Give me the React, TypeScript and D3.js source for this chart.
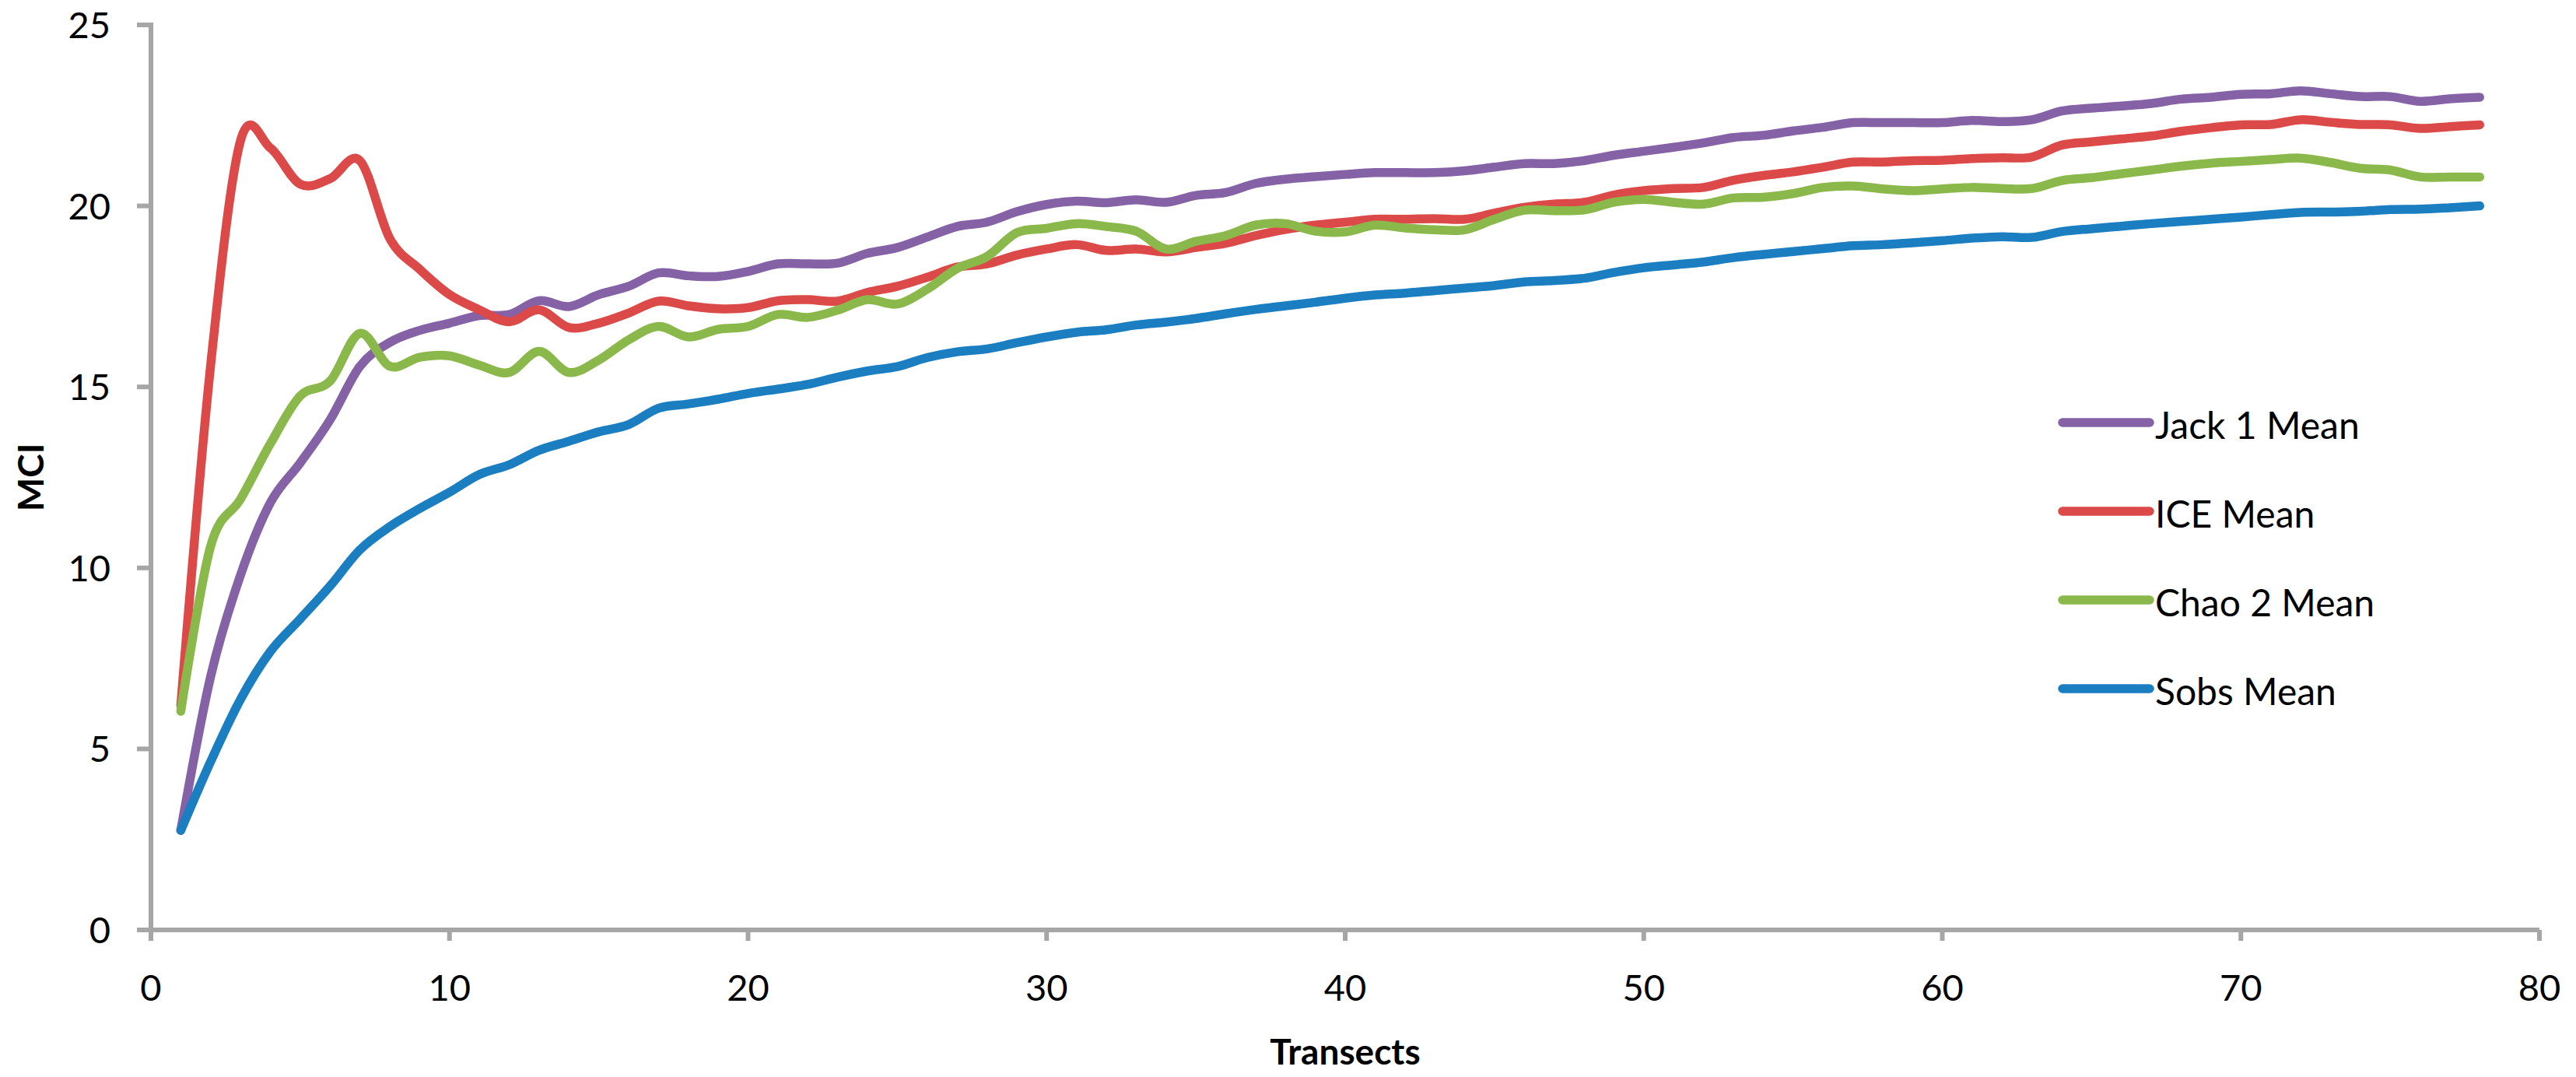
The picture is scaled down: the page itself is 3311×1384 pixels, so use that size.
import { useEffect, useRef } from 'react';
import * as d3 from 'd3';

// transect number (x)
const transects = [
  1, 2, 3, 4, 5, 6, 7, 8, 9, 10, 11, 12, 13, 14, 15, 16, 17, 18, 19, 20,
  21, 22, 23, 24, 25, 26, 27, 28, 29, 30, 31, 32, 33, 34, 35, 36, 37, 38, 39, 40,
  41, 42, 43, 44, 45, 46, 47, 48, 49, 50, 51, 52, 53, 54, 55, 56, 57, 58, 59, 60,
  61, 62, 63, 64, 65, 66, 67, 68, 69, 70, 71, 72, 73, 74, 75, 76, 77, 78,
];

const jack1Mean = [
  2.75, 7.0, 9.8, 11.8, 12.9, 14.09, 15.57, 16.23, 16.56, 16.76, 16.97, 17.0, 17.38, 17.22, 17.55, 17.78, 18.15, 18.07, 18.05, 18.19,
  18.4, 18.4, 18.42, 18.69, 18.85, 19.14, 19.43, 19.55, 19.84, 20.04, 20.13, 20.09, 20.17, 20.1, 20.29, 20.37, 20.62, 20.74, 20.81, 20.87,
  20.92, 20.92, 20.92, 20.97, 21.07, 21.17, 21.17, 21.25, 21.4, 21.51, 21.62, 21.74, 21.89, 21.95, 22.07, 22.17, 22.3, 22.3, 22.3, 22.3,
  22.36, 22.33, 22.38, 22.62, 22.7, 22.76, 22.83, 22.95, 23.0, 23.08, 23.1, 23.18, 23.1, 23.02, 23.02, 22.89, 22.96, 23.0,
];

const iceMean = [
  6.2, 15.6, 21.8, 21.6, 20.6, 20.75, 21.25, 19.1, 18.25, 17.55, 17.13, 16.8, 17.13, 16.64, 16.76, 17.04, 17.37, 17.24, 17.16, 17.19,
  17.38, 17.41, 17.37, 17.61, 17.78, 18.03, 18.31, 18.4, 18.64, 18.81, 18.93, 18.77, 18.81, 18.73, 18.85, 18.97, 19.18, 19.35, 19.47, 19.55,
  19.63, 19.63, 19.65, 19.63, 19.8, 19.96, 20.05, 20.1, 20.3, 20.42, 20.48, 20.51, 20.71, 20.84, 20.94, 21.07, 21.21, 21.21, 21.25, 21.26,
  21.31, 21.33, 21.35, 21.68, 21.77, 21.85, 21.93, 22.06, 22.16, 22.24, 22.25, 22.38, 22.31, 22.25, 22.24, 22.14, 22.19, 22.24,
];

const chao2Mean = [
  6.04, 10.6, 11.9, 13.43, 14.75, 15.16, 16.48, 15.57, 15.82, 15.86, 15.6, 15.4, 15.98, 15.4, 15.74, 16.3, 16.67, 16.38, 16.59, 16.67,
  17.0, 16.92, 17.12, 17.41, 17.29, 17.7, 18.27, 18.6, 19.26, 19.38, 19.51, 19.43, 19.3, 18.81, 19.02, 19.18, 19.47, 19.51, 19.3, 19.28,
  19.47, 19.39, 19.34, 19.34, 19.63, 19.88, 19.87, 19.89, 20.1, 20.18, 20.1, 20.05, 20.22, 20.24, 20.34, 20.51, 20.55, 20.47, 20.42, 20.47,
  20.51, 20.48, 20.48, 20.7, 20.78, 20.89, 20.99, 21.1, 21.18, 21.23, 21.28, 21.32, 21.2, 21.04, 20.99, 20.8, 20.8, 20.8,
];

const sobsMean = [
  2.75, 4.65, 6.37, 7.69, 8.59, 9.5, 10.5, 11.14, 11.64, 12.09, 12.58, 12.85, 13.25, 13.5, 13.76, 13.96, 14.41, 14.53, 14.66, 14.82,
  14.94, 15.07, 15.27, 15.44, 15.56, 15.81, 15.97, 16.05, 16.22, 16.38, 16.51, 16.58, 16.71, 16.79, 16.89, 17.02, 17.14, 17.24, 17.34, 17.45,
  17.54, 17.59, 17.66, 17.73, 17.8, 17.9, 17.94, 18.0, 18.16, 18.29, 18.37, 18.45, 18.57, 18.66, 18.74, 18.82, 18.9, 18.93, 18.98, 19.04,
  19.11, 19.15, 19.13, 19.29, 19.37, 19.44, 19.51, 19.57, 19.63, 19.69, 19.76, 19.82, 19.83, 19.85, 19.9, 19.91, 19.95, 20.0,
];

const seriesNames = ['Jack 1 Mean', 'ICE Mean', 'Chao 2 Mean', 'Sobs Mean'];
const seriesColors = ['#8561A6', '#DB4A48', '#8AB84B', '#1B7EC1'];
const xTicks = [0, 10, 20, 30, 40, 50, 60, 70, 80];
const yTicks = [0, 5, 10, 15, 20, 25];

const W = 3311;
const H = 1384;
const FONT = 'Lato, "Open Sans", sans-serif';

export default function App() {
  const svgRef = useRef<SVGSVGElement>(null);

  useEffect(() => {
    if (!svgRef.current) return;
    const svg = d3.select(svgRef.current);
    svg.selectAll('*').remove();

    const x = d3.scaleLinear().domain([0, 80]).range([194, 3264]);
    const y = d3.scaleLinear().domain([0, 25]).range([1195, 32]);
    const axisColor = '#A6A6A6';

    svg.append('rect').attr('width', W).attr('height', H).attr('fill', '#fff');

    // axes
    const ax = svg.append('g');
    ax.append('line')
      .attr('x1', x(0)).attr('x2', x(0)).attr('y1', y(25) - 3).attr('y2', y(0))
      .attr('stroke', axisColor).attr('stroke-width', 6);
    ax.append('line')
      .attr('x1', x(0) - 3).attr('x2', x(80)).attr('y1', y(0)).attr('y2', y(0))
      .attr('stroke', axisColor).attr('stroke-width', 6);

    yTicks.forEach(t => {
      ax.append('line')
        .attr('x1', x(0) - 18).attr('x2', x(0)).attr('y1', y(t)).attr('y2', y(t))
        .attr('stroke', axisColor).attr('stroke-width', 6);
      ax.append('text')
        .attr('x', 142).attr('y', y(t) + 17)
        .attr('text-anchor', 'end')
        .attr('font-family', FONT).attr('font-size', 47)
        .attr('fill', '#000')
        .text(t);
    });

    xTicks.forEach(t => {
      ax.append('line')
        .attr('x1', x(t)).attr('x2', x(t)).attr('y1', y(0)).attr('y2', y(0) + 14)
        .attr('stroke', axisColor).attr('stroke-width', 6);
      ax.append('text')
        .attr('x', x(t)).attr('y', 1286)
        .attr('text-anchor', 'middle')
        .attr('font-family', FONT).attr('font-size', 47)
        .attr('fill', '#000')
        .text(t);
    });

    // axis titles
    svg.append('text')
      .attr('x', (x(0) + x(80)) / 2).attr('y', 1368)
      .attr('text-anchor', 'middle')
      .attr('font-family', FONT).attr('font-size', 46).attr('font-weight', 'bold')
      .text('Transects');
    svg.append('text')
      .attr('transform', `translate(56,${(y(0) + y(25)) / 2}) rotate(-90)`)
      .attr('text-anchor', 'middle')
      .attr('font-family', FONT).attr('font-size', 46).attr('font-weight', 'bold')
      .text('MCI');

    // series (smoothed like the spreadsheet line)
    const allSeries = [jack1Mean, iceMean, chao2Mean, sobsMean];
    const line = d3.line<number>()
      .x((_, i) => x(transects[i]))
      .y(d => y(d))
      .curve(d3.curveCardinal.tension(0));

    allSeries.forEach((vals, si) => {
      svg.append('path')
        .attr('d', line(vals) as string)
        .attr('fill', 'none')
        .attr('stroke', seriesColors[si])
        .attr('stroke-width', 11.5)
        .attr('stroke-linecap', 'round')
        .attr('stroke-linejoin', 'round');
    });

    // legend
    const legendY = [543, 657, 771, 885];
    seriesNames.forEach((name, i) => {
      svg.append('line')
        .attr('x1', 2651).attr('x2', 2763)
        .attr('y1', legendY[i]).attr('y2', legendY[i])
        .attr('stroke', seriesColors[i]).attr('stroke-width', 11.5)
        .attr('stroke-linecap', 'round');
      svg.append('text')
        .attr('x', 2770).attr('y', legendY[i] + 21)
        .attr('font-family', FONT).attr('font-size', 48)
        .attr('fill', '#000')
        .text(name);
    });
  }, []);

  return (
    <svg
      ref={svgRef}
      width={W}
      height={H}
      style={{ position: 'absolute', left: 0, top: 0, display: 'block' }}
    />
  );
}
